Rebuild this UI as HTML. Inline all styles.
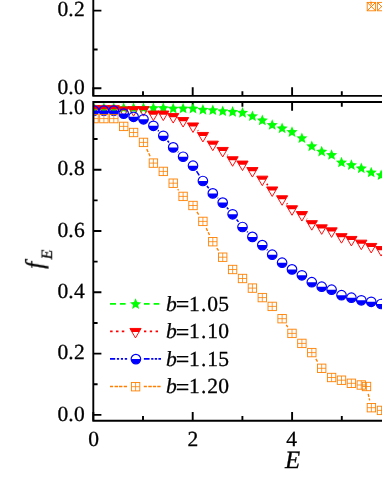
<!DOCTYPE html><html><head><meta charset="utf-8"><title>plot</title><style>html,body{margin:0;padding:0;background:#fff}body{width:382px;height:494px;overflow:hidden}</style></head><body><svg width="382" height="494" viewBox="0 0 382 494" style="display:block">
<rect width="382" height="494" fill="#fff"/>
<defs><clipPath id="cb"><rect x="93.3" y="102.05" width="300" height="318.65"/></clipPath><clipPath id="ct"><rect x="93.3" y="-5" width="300" height="100.9"/></clipPath></defs>
<path d="M192.7,102.05 v8.6 M242.4,102.05 v4.6 M292.1,102.05 v8.6 M341.8,102.05 v4.6 M93.3,414.9 h8.1 M93.3,384.25 h4.3 M93.3,353.6 h8.1 M93.3,322.95 h4.3 M93.3,292.3 h8.1 M93.3,261.65 h4.3 M93.3,231 h8.1 M93.3,200.35 h4.3 M93.3,169.7 h8.1 M93.3,139.05 h4.3 M93.3,108.4 h8.1 M93.3,420.7 v-8.6 M143,420.7 v-4.6 M192.7,420.7 v-8.6 M242.4,420.7 v-4.6 M292.1,420.7 v-8.6 M341.8,420.7 v-4.6" stroke="#000" stroke-width="1.9" fill="none"/>
<g clip-path="url(#cb)">

<polygon points="94,102.3 95.56,106.05 99.61,106.38 96.53,109.02 97.47,112.97 94,110.86 90.53,112.97 91.47,109.02 88.39,106.38 92.44,106.05" fill="#00FF00"/>
<polygon points="103.9,102.3 105.46,106.05 109.51,106.38 106.43,109.02 107.37,112.97 103.9,110.86 100.43,112.97 101.37,109.02 98.29,106.38 102.34,106.05" fill="#00FF00"/>
<polygon points="113.8,102.3 115.36,106.05 119.41,106.38 116.33,109.02 117.27,112.97 113.8,110.86 110.33,112.97 111.27,109.02 108.19,106.38 112.24,106.05" fill="#00FF00"/>
<polygon points="123.7,102.3 125.26,106.05 129.31,106.38 126.23,109.02 127.17,112.97 123.7,110.86 120.23,112.97 121.17,109.02 118.09,106.38 122.14,106.05" fill="#00FF00"/>
<polygon points="133.6,102.3 135.16,106.05 139.21,106.38 136.13,109.02 137.07,112.97 133.6,110.86 130.13,112.97 131.07,109.02 127.99,106.38 132.04,106.05" fill="#00FF00"/>
<polygon points="143.5,102.3 145.06,106.05 149.11,106.38 146.03,109.02 146.97,112.97 143.5,110.86 140.03,112.97 140.97,109.02 137.89,106.38 141.94,106.05" fill="#00FF00"/>
<polygon points="153.4,102.3 154.96,106.05 159.01,106.38 155.93,109.02 156.87,112.97 153.4,110.86 149.93,112.97 150.87,109.02 147.79,106.38 151.84,106.05" fill="#00FF00"/>
<polygon points="163.3,102.3 164.86,106.05 168.91,106.38 165.83,109.02 166.77,112.97 163.3,110.86 159.83,112.97 160.77,109.02 157.69,106.38 161.74,106.05" fill="#00FF00"/>
<polygon points="173.2,102.8 174.76,106.55 178.81,106.88 175.73,109.52 176.67,113.47 173.2,111.36 169.73,113.47 170.67,109.52 167.59,106.88 171.64,106.55" fill="#00FF00"/>
<polygon points="183.1,102.7 184.66,106.45 188.71,106.78 185.63,109.42 186.57,113.37 183.1,111.25 179.63,113.37 180.57,109.42 177.49,106.78 181.54,106.45" fill="#00FF00"/>
<polygon points="193,102.8 194.56,106.55 198.61,106.88 195.53,109.52 196.47,113.47 193,111.36 189.53,113.47 190.47,109.52 187.39,106.88 191.44,106.55" fill="#00FF00"/>
<polygon points="202.9,104 204.46,107.75 208.51,108.08 205.43,110.72 206.37,114.67 202.9,112.56 199.43,114.67 200.37,110.72 197.29,108.08 201.34,107.75" fill="#00FF00"/>
<polygon points="212.8,104.4 214.36,108.15 218.41,108.48 215.33,111.12 216.27,115.07 212.8,112.95 209.33,115.07 210.27,111.12 207.19,108.48 211.24,108.15" fill="#00FF00"/>
<polygon points="222.7,105.4 224.26,109.15 228.31,109.48 225.23,112.12 226.17,116.07 222.7,113.95 219.23,116.07 220.17,112.12 217.09,109.48 221.14,109.15" fill="#00FF00"/>
<polygon points="232.6,106.1 234.16,109.85 238.21,110.18 235.13,112.82 236.07,116.77 232.6,114.66 229.13,116.77 230.07,112.82 226.99,110.18 231.04,109.85" fill="#00FF00"/>
<polygon points="242.5,107 244.06,110.75 248.11,111.08 245.03,113.72 245.97,117.67 242.5,115.56 239.03,117.67 239.97,113.72 236.89,111.08 240.94,110.75" fill="#00FF00"/>
<polygon points="252.4,110.4 253.96,114.15 258.01,114.48 254.93,117.12 255.87,121.07 252.4,118.95 248.93,121.07 249.87,117.12 246.79,114.48 250.84,114.15" fill="#00FF00"/>
<polygon points="262.3,114.6 263.86,118.35 267.91,118.68 264.83,121.32 265.77,125.27 262.3,123.16 258.83,125.27 259.77,121.32 256.69,118.68 260.74,118.35" fill="#00FF00"/>
<polygon points="272.2,119.2 273.76,122.95 277.81,123.28 274.73,125.92 275.67,129.87 272.2,127.75 268.73,129.87 269.67,125.92 266.59,123.28 270.64,122.95" fill="#00FF00"/>
<polygon points="282.1,122.55 283.66,126.3 287.71,126.63 284.63,129.27 285.57,133.22 282.1,131.1 278.63,133.22 279.57,129.27 276.49,126.63 280.54,126.3" fill="#00FF00"/>
<polygon points="292,126.25 293.56,130 297.61,130.33 294.53,132.97 295.47,136.92 292,134.81 288.53,136.92 289.47,132.97 286.39,130.33 290.44,130" fill="#00FF00"/>
<polygon points="301.9,132.4 303.46,136.15 307.51,136.48 304.43,139.12 305.37,143.07 301.9,140.96 298.43,143.07 299.37,139.12 296.29,136.48 300.34,136.15" fill="#00FF00"/>
<polygon points="311.8,140.5 313.36,144.25 317.41,144.58 314.33,147.22 315.27,151.17 311.8,149.06 308.33,151.17 309.27,147.22 306.19,144.58 310.24,144.25" fill="#00FF00"/>
<polygon points="321.7,145.8 323.26,149.55 327.31,149.88 324.23,152.52 325.17,156.47 321.7,154.35 318.23,156.47 319.17,152.52 316.09,149.88 320.14,149.55" fill="#00FF00"/>
<polygon points="331.6,149.2 333.16,152.95 337.21,153.28 334.13,155.92 335.07,159.87 331.6,157.75 328.13,159.87 329.07,155.92 325.99,153.28 330.04,152.95" fill="#00FF00"/>
<polygon points="341.5,156.7 343.06,160.45 347.11,160.78 344.03,163.42 344.97,167.37 341.5,165.25 338.03,167.37 338.97,163.42 335.89,160.78 339.94,160.45" fill="#00FF00"/>
<polygon points="351.4,159.3 352.96,163.05 357.01,163.38 353.93,166.02 354.87,169.97 351.4,167.85 347.93,169.97 348.87,166.02 345.79,163.38 349.84,163.05" fill="#00FF00"/>
<polygon points="361.3,162.55 362.86,166.3 366.91,166.63 363.83,169.27 364.77,173.22 361.3,171.1 357.83,173.22 358.77,169.27 355.69,166.63 359.74,166.3" fill="#00FF00"/>
<polygon points="371.2,166.7 372.76,170.45 376.81,170.78 373.73,173.42 374.67,177.37 371.2,175.25 367.73,177.37 368.67,173.42 365.59,170.78 369.64,170.45" fill="#00FF00"/>
<polygon points="381.1,169.4 382.66,173.15 386.71,173.48 383.63,176.12 384.57,180.07 381.1,177.96 377.63,180.07 378.57,176.12 375.49,173.48 379.54,173.15" fill="#00FF00"/>
<polygon points="391,171.1 392.56,174.85 396.61,175.18 393.53,177.82 394.47,181.77 391,179.66 387.53,181.77 388.47,177.82 385.39,175.18 389.44,174.85" fill="#00FF00"/>
<path d="M197.69,130.4 L198.21,130.9 M227.44,154.85 L227.86,155.25 M266.69,183.89 L267.81,185.11 M286.67,203.32 L287.43,204.08 M306.69,218.9 L307.01,219.2" fill="none" stroke="#FF0000" stroke-width="1.6" stroke-dasharray="2.3 3.5"/>
<polygon points="88.4,105.65 99.6,105.65 97.48,109.25 90.52,109.25" fill="#FF0000"/><polygon points="88.4,105.65 99.6,105.65 94,115.15" fill="none" stroke="#FF0000" stroke-width="0.95"/>
<polygon points="98.3,105.65 109.5,105.65 107.38,109.25 100.42,109.25" fill="#FF0000"/><polygon points="98.3,105.65 109.5,105.65 103.9,115.15" fill="none" stroke="#FF0000" stroke-width="0.95"/>
<polygon points="108.2,105.65 119.4,105.65 117.28,109.25 110.32,109.25" fill="#FF0000"/><polygon points="108.2,105.65 119.4,105.65 113.8,115.15" fill="none" stroke="#FF0000" stroke-width="0.95"/>
<polygon points="118.1,106.95 129.3,106.95 127.18,110.55 120.22,110.55" fill="#FF0000"/><polygon points="118.1,106.95 129.3,106.95 123.7,116.45" fill="none" stroke="#FF0000" stroke-width="0.95"/>
<polygon points="128,106.65 139.2,106.65 137.08,110.25 130.12,110.25" fill="#FF0000"/><polygon points="128,106.65 139.2,106.65 133.6,116.15" fill="none" stroke="#FF0000" stroke-width="0.95"/>
<polygon points="137.9,106.65 149.1,106.65 146.98,110.25 140.02,110.25" fill="#FF0000"/><polygon points="137.9,106.65 149.1,106.65 143.5,116.15" fill="none" stroke="#FF0000" stroke-width="0.95"/>
<polygon points="147.8,111.05 159,111.05 156.88,114.65 149.92,114.65" fill="#FF0000"/><polygon points="147.8,111.05 159,111.05 153.4,120.55" fill="none" stroke="#FF0000" stroke-width="0.95"/>
<polygon points="157.7,111.05 168.9,111.05 166.78,114.65 159.82,114.65" fill="#FF0000"/><polygon points="157.7,111.05 168.9,111.05 163.3,120.55" fill="none" stroke="#FF0000" stroke-width="0.95"/>
<polygon points="167.6,113.55 178.8,113.55 176.68,117.15 169.72,117.15" fill="#FF0000"/><polygon points="167.6,113.55 178.8,113.55 173.2,123.05" fill="none" stroke="#FF0000" stroke-width="0.95"/>
<polygon points="177.5,117.55 188.7,117.55 186.58,121.15 179.62,121.15" fill="#FF0000"/><polygon points="177.5,117.55 188.7,117.55 183.1,127.05" fill="none" stroke="#FF0000" stroke-width="0.95"/>
<polygon points="187.4,122.95 198.6,122.95 196.48,126.55 189.52,126.55" fill="#FF0000"/><polygon points="187.4,122.95 198.6,122.95 193,132.45" fill="none" stroke="#FF0000" stroke-width="0.95"/>
<polygon points="197.3,132.45 208.5,132.45 206.38,136.05 199.42,136.05" fill="#FF0000"/><polygon points="197.3,132.45 208.5,132.45 202.9,141.95" fill="none" stroke="#FF0000" stroke-width="0.95"/>
<polygon points="207.2,141.15 218.4,141.15 216.28,144.75 209.32,144.75" fill="#FF0000"/><polygon points="207.2,141.15 218.4,141.15 212.8,150.65" fill="none" stroke="#FF0000" stroke-width="0.95"/>
<polygon points="217.1,147.45 228.3,147.45 226.18,151.05 219.22,151.05" fill="#FF0000"/><polygon points="217.1,147.45 228.3,147.45 222.7,156.95" fill="none" stroke="#FF0000" stroke-width="0.95"/>
<polygon points="227,156.75 238.2,156.75 236.08,160.35 229.12,160.35" fill="#FF0000"/><polygon points="227,156.75 238.2,156.75 232.6,166.25" fill="none" stroke="#FF0000" stroke-width="0.95"/>
<polygon points="236.9,161.05 248.1,161.05 245.98,164.65 239.02,164.65" fill="#FF0000"/><polygon points="236.9,161.05 248.1,161.05 242.5,170.55" fill="none" stroke="#FF0000" stroke-width="0.95"/>
<polygon points="246.8,167.55 258,167.55 255.88,171.15 248.92,171.15" fill="#FF0000"/><polygon points="246.8,167.55 258,167.55 252.4,177.05" fill="none" stroke="#FF0000" stroke-width="0.95"/>
<polygon points="256.7,176.15 267.9,176.15 265.78,179.75 258.82,179.75" fill="#FF0000"/><polygon points="256.7,176.15 267.9,176.15 262.3,185.65" fill="none" stroke="#FF0000" stroke-width="0.95"/>
<polygon points="266.6,186.95 277.8,186.95 275.68,190.55 268.72,190.55" fill="#FF0000"/><polygon points="266.6,186.95 277.8,186.95 272.2,196.45" fill="none" stroke="#FF0000" stroke-width="0.95"/>
<polygon points="276.5,195.75 287.7,195.75 285.58,199.35 278.62,199.35" fill="#FF0000"/><polygon points="276.5,195.75 287.7,195.75 282.1,205.25" fill="none" stroke="#FF0000" stroke-width="0.95"/>
<polygon points="286.4,205.75 297.6,205.75 295.48,209.35 288.52,209.35" fill="#FF0000"/><polygon points="286.4,205.75 297.6,205.75 292,215.25" fill="none" stroke="#FF0000" stroke-width="0.95"/>
<polygon points="296.3,211.55 307.5,211.55 305.38,215.15 298.42,215.15" fill="#FF0000"/><polygon points="296.3,211.55 307.5,211.55 301.9,221.05" fill="none" stroke="#FF0000" stroke-width="0.95"/>
<polygon points="306.2,220.65 317.4,220.65 315.28,224.25 308.32,224.25" fill="#FF0000"/><polygon points="306.2,220.65 317.4,220.65 311.8,230.15" fill="none" stroke="#FF0000" stroke-width="0.95"/>
<polygon points="316.1,224.85 327.3,224.85 325.18,228.45 318.22,228.45" fill="#FF0000"/><polygon points="316.1,224.85 327.3,224.85 321.7,234.35" fill="none" stroke="#FF0000" stroke-width="0.95"/>
<polygon points="326,227.85 337.2,227.85 335.08,231.45 328.12,231.45" fill="#FF0000"/><polygon points="326,227.85 337.2,227.85 331.6,237.35" fill="none" stroke="#FF0000" stroke-width="0.95"/>
<polygon points="335.9,233.65 347.1,233.65 344.98,237.25 338.02,237.25" fill="#FF0000"/><polygon points="335.9,233.65 347.1,233.65 341.5,243.15" fill="none" stroke="#FF0000" stroke-width="0.95"/>
<polygon points="345.8,236.45 357,236.45 354.88,240.05 347.92,240.05" fill="#FF0000"/><polygon points="345.8,236.45 357,236.45 351.4,245.95" fill="none" stroke="#FF0000" stroke-width="0.95"/>
<polygon points="355.7,240.15 366.9,240.15 364.78,243.75 357.82,243.75" fill="#FF0000"/><polygon points="355.7,240.15 366.9,240.15 361.3,249.65" fill="none" stroke="#FF0000" stroke-width="0.95"/>
<polygon points="365.6,243.45 376.8,243.45 374.68,247.05 367.72,247.05" fill="#FF0000"/><polygon points="365.6,243.45 376.8,243.45 371.2,252.95" fill="none" stroke="#FF0000" stroke-width="0.95"/>
<polygon points="375.5,246.55 386.7,246.55 384.58,250.15 377.62,250.15" fill="#FF0000"/><polygon points="375.5,246.55 386.7,246.55 381.1,256.05" fill="none" stroke="#FF0000" stroke-width="0.95"/>
<polygon points="385.4,250.05 396.6,250.05 394.48,253.65 387.52,253.65" fill="#FF0000"/><polygon points="385.4,250.05 396.6,250.05 391,259.55" fill="none" stroke="#FF0000" stroke-width="0.95"/>
<path d="M157.97,130.42 L158.73,131.18 M167.52,140.74 L168.98,142.46 M177.93,151.86 L178.37,152.29 M196.53,171.16 L199.37,175.54 M206.96,186.08 L208.74,188.32 M217.56,197.82 L217.94,198.18 M226.9,207.56 L228.4,209.34 M236.6,219.43 L238.5,221.87 M247.1,231.6 L247.8,232.3 M266.97,249.62 L267.53,250.18" fill="none" stroke="#0000FF" stroke-width="1.6" stroke-dasharray="5 1.9 2.1 1.9 2.1 1.9 2.1 1.9"/>
<path d="M89.25,110.6 A4.75,4.75 0 0 0 98.75,110.6 Z" fill="#0000FF"/><circle cx="94" cy="110.6" r="4.75" fill="none" stroke="#0000FF" stroke-width="1.2"/>
<path d="M99.15,110.6 A4.75,4.75 0 0 0 108.65,110.6 Z" fill="#0000FF"/><circle cx="103.9" cy="110.6" r="4.75" fill="none" stroke="#0000FF" stroke-width="1.2"/>
<path d="M109.05,110.6 A4.75,4.75 0 0 0 118.55,110.6 Z" fill="#0000FF"/><circle cx="113.8" cy="110.6" r="4.75" fill="none" stroke="#0000FF" stroke-width="1.2"/>
<path d="M118.95,113.6 A4.75,4.75 0 0 0 128.45,113.6 Z" fill="#0000FF"/><circle cx="123.7" cy="113.6" r="4.75" fill="none" stroke="#0000FF" stroke-width="1.2"/>
<path d="M128.85,116.8 A4.75,4.75 0 0 0 138.35,116.8 Z" fill="#0000FF"/><circle cx="133.6" cy="116.8" r="4.75" fill="none" stroke="#0000FF" stroke-width="1.2"/>
<path d="M138.75,119.3 A4.75,4.75 0 0 0 148.25,119.3 Z" fill="#0000FF"/><circle cx="143.5" cy="119.3" r="4.75" fill="none" stroke="#0000FF" stroke-width="1.2"/>
<path d="M148.65,125.8 A4.75,4.75 0 0 0 158.15,125.8 Z" fill="#0000FF"/><circle cx="153.4" cy="125.8" r="4.75" fill="none" stroke="#0000FF" stroke-width="1.2"/>
<path d="M158.55,135.8 A4.75,4.75 0 0 0 168.05,135.8 Z" fill="#0000FF"/><circle cx="163.3" cy="135.8" r="4.75" fill="none" stroke="#0000FF" stroke-width="1.2"/>
<path d="M168.45,147.4 A4.75,4.75 0 0 0 177.95,147.4 Z" fill="#0000FF"/><circle cx="173.2" cy="147.4" r="4.75" fill="none" stroke="#0000FF" stroke-width="1.2"/>
<path d="M178.35,156.75 A4.75,4.75 0 0 0 187.85,156.75 Z" fill="#0000FF"/><circle cx="183.1" cy="156.75" r="4.75" fill="none" stroke="#0000FF" stroke-width="1.2"/>
<path d="M188.25,165.7 A4.75,4.75 0 0 0 197.75,165.7 Z" fill="#0000FF"/><circle cx="193" cy="165.7" r="4.75" fill="none" stroke="#0000FF" stroke-width="1.2"/>
<path d="M198.15,181 A4.75,4.75 0 0 0 207.65,181 Z" fill="#0000FF"/><circle cx="202.9" cy="181" r="4.75" fill="none" stroke="#0000FF" stroke-width="1.2"/>
<path d="M208.05,193.4 A4.75,4.75 0 0 0 217.55,193.4 Z" fill="#0000FF"/><circle cx="212.8" cy="193.4" r="4.75" fill="none" stroke="#0000FF" stroke-width="1.2"/>
<path d="M217.95,202.6 A4.75,4.75 0 0 0 227.45,202.6 Z" fill="#0000FF"/><circle cx="222.7" cy="202.6" r="4.75" fill="none" stroke="#0000FF" stroke-width="1.2"/>
<path d="M227.85,214.3 A4.75,4.75 0 0 0 237.35,214.3 Z" fill="#0000FF"/><circle cx="232.6" cy="214.3" r="4.75" fill="none" stroke="#0000FF" stroke-width="1.2"/>
<path d="M237.75,227 A4.75,4.75 0 0 0 247.25,227 Z" fill="#0000FF"/><circle cx="242.5" cy="227" r="4.75" fill="none" stroke="#0000FF" stroke-width="1.2"/>
<path d="M247.65,236.9 A4.75,4.75 0 0 0 257.15,236.9 Z" fill="#0000FF"/><circle cx="252.4" cy="236.9" r="4.75" fill="none" stroke="#0000FF" stroke-width="1.2"/>
<path d="M257.55,245.1 A4.75,4.75 0 0 0 267.05,245.1 Z" fill="#0000FF"/><circle cx="262.3" cy="245.1" r="4.75" fill="none" stroke="#0000FF" stroke-width="1.2"/>
<path d="M267.45,254.7 A4.75,4.75 0 0 0 276.95,254.7 Z" fill="#0000FF"/><circle cx="272.2" cy="254.7" r="4.75" fill="none" stroke="#0000FF" stroke-width="1.2"/>
<path d="M277.35,262.7 A4.75,4.75 0 0 0 286.85,262.7 Z" fill="#0000FF"/><circle cx="282.1" cy="262.7" r="4.75" fill="none" stroke="#0000FF" stroke-width="1.2"/>
<path d="M287.25,269.4 A4.75,4.75 0 0 0 296.75,269.4 Z" fill="#0000FF"/><circle cx="292" cy="269.4" r="4.75" fill="none" stroke="#0000FF" stroke-width="1.2"/>
<path d="M297.15,275.3 A4.75,4.75 0 0 0 306.65,275.3 Z" fill="#0000FF"/><circle cx="301.9" cy="275.3" r="4.75" fill="none" stroke="#0000FF" stroke-width="1.2"/>
<path d="M307.05,282.2 A4.75,4.75 0 0 0 316.55,282.2 Z" fill="#0000FF"/><circle cx="311.8" cy="282.2" r="4.75" fill="none" stroke="#0000FF" stroke-width="1.2"/>
<path d="M316.95,286.7 A4.75,4.75 0 0 0 326.45,286.7 Z" fill="#0000FF"/><circle cx="321.7" cy="286.7" r="4.75" fill="none" stroke="#0000FF" stroke-width="1.2"/>
<path d="M326.85,289.7 A4.75,4.75 0 0 0 336.35,289.7 Z" fill="#0000FF"/><circle cx="331.6" cy="289.7" r="4.75" fill="none" stroke="#0000FF" stroke-width="1.2"/>
<path d="M336.75,295.2 A4.75,4.75 0 0 0 346.25,295.2 Z" fill="#0000FF"/><circle cx="341.5" cy="295.2" r="4.75" fill="none" stroke="#0000FF" stroke-width="1.2"/>
<path d="M346.65,297.7 A4.75,4.75 0 0 0 356.15,297.7 Z" fill="#0000FF"/><circle cx="351.4" cy="297.7" r="4.75" fill="none" stroke="#0000FF" stroke-width="1.2"/>
<path d="M356.55,300.3 A4.75,4.75 0 0 0 366.05,300.3 Z" fill="#0000FF"/><circle cx="361.3" cy="300.3" r="4.75" fill="none" stroke="#0000FF" stroke-width="1.2"/>
<path d="M366.45,301.8 A4.75,4.75 0 0 0 375.95,301.8 Z" fill="#0000FF"/><circle cx="371.2" cy="301.8" r="4.75" fill="none" stroke="#0000FF" stroke-width="1.2"/>
<path d="M376.35,304 A4.75,4.75 0 0 0 385.85,304 Z" fill="#0000FF"/><circle cx="381.1" cy="304" r="4.75" fill="none" stroke="#0000FF" stroke-width="1.2"/>
<path d="M386.25,305 A4.75,4.75 0 0 0 395.75,305 Z" fill="#0000FF"/><circle cx="391" cy="305" r="4.75" fill="none" stroke="#0000FF" stroke-width="1.2"/>
<path d="M146.74,149.17 L150.16,156.33 M177.7,189.2 L178.6,190.4 M196.96,211.87 L198.94,215.03 M206.19,228.14 L209.51,234.96 M216.84,248.02 L218.66,250.88 M286.29,324.92 L287.81,327.18 M315.8,358.94 L317.7,361.96 M368.19,393.81 L369.71,400.39" fill="none" stroke="#FF8000" stroke-width="1.4" stroke-dasharray="3.2 1.4"/>
<rect x="89.8" y="114.4" width="8.4" height="8.4" fill="none" stroke="#FF8000" stroke-width="0.9"/><path d="M94,114.4 V122.8 M89.8,118.6 H98.2" stroke="#FF8000" stroke-width="0.8" fill="none"/>
<rect x="99.7" y="114.4" width="8.4" height="8.4" fill="none" stroke="#FF8000" stroke-width="0.9"/><path d="M103.9,114.4 V122.8 M99.7,118.6 H108.1" stroke="#FF8000" stroke-width="0.8" fill="none"/>
<rect x="109.6" y="114.4" width="8.4" height="8.4" fill="none" stroke="#FF8000" stroke-width="0.9"/><path d="M113.8,114.4 V122.8 M109.6,118.6 H118" stroke="#FF8000" stroke-width="0.8" fill="none"/>
<rect x="119.5" y="122.2" width="8.4" height="8.4" fill="none" stroke="#FF8000" stroke-width="0.9"/><path d="M123.7,122.2 V130.6 M119.5,126.4 H127.9" stroke="#FF8000" stroke-width="0.8" fill="none"/>
<rect x="129.4" y="128.3" width="8.4" height="8.4" fill="none" stroke="#FF8000" stroke-width="0.9"/><path d="M133.6,128.3 V136.7 M129.4,132.5 H137.8" stroke="#FF8000" stroke-width="0.8" fill="none"/>
<rect x="139.3" y="138.2" width="8.4" height="8.4" fill="none" stroke="#FF8000" stroke-width="0.9"/><path d="M143.5,138.2 V146.6 M139.3,142.4 H147.7" stroke="#FF8000" stroke-width="0.8" fill="none"/>
<rect x="149.2" y="158.9" width="8.4" height="8.4" fill="none" stroke="#FF8000" stroke-width="0.9"/><path d="M153.4,158.9 V167.3 M149.2,163.1 H157.6" stroke="#FF8000" stroke-width="0.8" fill="none"/>
<rect x="159.1" y="167.2" width="8.4" height="8.4" fill="none" stroke="#FF8000" stroke-width="0.9"/><path d="M163.3,167.2 V175.6 M159.1,171.4 H167.5" stroke="#FF8000" stroke-width="0.8" fill="none"/>
<rect x="169" y="179" width="8.4" height="8.4" fill="none" stroke="#FF8000" stroke-width="0.9"/><path d="M173.2,179 V187.4 M169,183.2 H177.4" stroke="#FF8000" stroke-width="0.8" fill="none"/>
<rect x="178.9" y="192.2" width="8.4" height="8.4" fill="none" stroke="#FF8000" stroke-width="0.9"/><path d="M183.1,192.2 V200.6 M178.9,196.4 H187.3" stroke="#FF8000" stroke-width="0.8" fill="none"/>
<rect x="188.8" y="201.3" width="8.4" height="8.4" fill="none" stroke="#FF8000" stroke-width="0.9"/><path d="M193,201.3 V209.7 M188.8,205.5 H197.2" stroke="#FF8000" stroke-width="0.8" fill="none"/>
<rect x="198.7" y="217.2" width="8.4" height="8.4" fill="none" stroke="#FF8000" stroke-width="0.9"/><path d="M202.9,217.2 V225.6 M198.7,221.4 H207.1" stroke="#FF8000" stroke-width="0.8" fill="none"/>
<rect x="208.6" y="237.5" width="8.4" height="8.4" fill="none" stroke="#FF8000" stroke-width="0.9"/><path d="M212.8,237.5 V245.9 M208.6,241.7 H217" stroke="#FF8000" stroke-width="0.8" fill="none"/>
<rect x="218.5" y="253" width="8.4" height="8.4" fill="none" stroke="#FF8000" stroke-width="0.9"/><path d="M222.7,253 V261.4 M218.5,257.2 H226.9" stroke="#FF8000" stroke-width="0.8" fill="none"/>
<rect x="228.4" y="265.3" width="8.4" height="8.4" fill="none" stroke="#FF8000" stroke-width="0.9"/><path d="M232.6,265.3 V273.7 M228.4,269.5 H236.8" stroke="#FF8000" stroke-width="0.8" fill="none"/>
<rect x="238.3" y="274.3" width="8.4" height="8.4" fill="none" stroke="#FF8000" stroke-width="0.9"/><path d="M242.5,274.3 V282.7 M238.3,278.5 H246.7" stroke="#FF8000" stroke-width="0.8" fill="none"/>
<rect x="248.2" y="283.9" width="8.4" height="8.4" fill="none" stroke="#FF8000" stroke-width="0.9"/><path d="M252.4,283.9 V292.3 M248.2,288.1 H256.6" stroke="#FF8000" stroke-width="0.8" fill="none"/>
<rect x="258.1" y="293.4" width="8.4" height="8.4" fill="none" stroke="#FF8000" stroke-width="0.9"/><path d="M262.3,293.4 V301.8 M258.1,297.6 H266.5" stroke="#FF8000" stroke-width="0.8" fill="none"/>
<rect x="268" y="302.2" width="8.4" height="8.4" fill="none" stroke="#FF8000" stroke-width="0.9"/><path d="M272.2,302.2 V310.6 M268,306.4 H276.4" stroke="#FF8000" stroke-width="0.8" fill="none"/>
<rect x="277.9" y="314.5" width="8.4" height="8.4" fill="none" stroke="#FF8000" stroke-width="0.9"/><path d="M282.1,314.5 V322.9 M277.9,318.7 H286.3" stroke="#FF8000" stroke-width="0.8" fill="none"/>
<rect x="287.8" y="329.2" width="8.4" height="8.4" fill="none" stroke="#FF8000" stroke-width="0.9"/><path d="M292,329.2 V337.6 M287.8,333.4 H296.2" stroke="#FF8000" stroke-width="0.8" fill="none"/>
<rect x="297.7" y="339.2" width="8.4" height="8.4" fill="none" stroke="#FF8000" stroke-width="0.9"/><path d="M301.9,339.2 V347.6 M297.7,343.4 H306.1" stroke="#FF8000" stroke-width="0.8" fill="none"/>
<rect x="307.6" y="348.4" width="8.4" height="8.4" fill="none" stroke="#FF8000" stroke-width="0.9"/><path d="M311.8,348.4 V356.8 M307.6,352.6 H316" stroke="#FF8000" stroke-width="0.8" fill="none"/>
<rect x="317.5" y="364.1" width="8.4" height="8.4" fill="none" stroke="#FF8000" stroke-width="0.9"/><path d="M321.7,364.1 V372.5 M317.5,368.3 H325.9" stroke="#FF8000" stroke-width="0.8" fill="none"/>
<rect x="327.4" y="373.3" width="8.4" height="8.4" fill="none" stroke="#FF8000" stroke-width="0.9"/><path d="M331.6,373.3 V381.7 M327.4,377.5 H335.8" stroke="#FF8000" stroke-width="0.8" fill="none"/>
<rect x="337.3" y="376" width="8.4" height="8.4" fill="none" stroke="#FF8000" stroke-width="0.9"/><path d="M341.5,376 V384.4 M337.3,380.2 H345.7" stroke="#FF8000" stroke-width="0.8" fill="none"/>
<rect x="347.2" y="379.1" width="8.4" height="8.4" fill="none" stroke="#FF8000" stroke-width="0.9"/><path d="M351.4,379.1 V387.5 M347.2,383.3 H355.6" stroke="#FF8000" stroke-width="0.8" fill="none"/>
<rect x="357.1" y="380.8" width="8.4" height="8.4" fill="none" stroke="#FF8000" stroke-width="0.9"/><path d="M361.3,380.8 V389.2 M357.1,385 H365.5" stroke="#FF8000" stroke-width="0.8" fill="none"/>
<rect x="362.3" y="382.3" width="8.4" height="8.4" fill="none" stroke="#FF8000" stroke-width="0.9"/><path d="M366.5,382.3 V390.7 M362.3,386.5 H370.7" stroke="#FF8000" stroke-width="0.8" fill="none"/>
<rect x="367.2" y="403.5" width="8.4" height="8.4" fill="none" stroke="#FF8000" stroke-width="0.9"/><path d="M371.4,403.5 V411.9 M367.2,407.7 H375.6" stroke="#FF8000" stroke-width="0.8" fill="none"/>
<rect x="377.3" y="406.2" width="8.4" height="8.4" fill="none" stroke="#FF8000" stroke-width="0.9"/><path d="M381.5,406.2 V414.6 M377.3,410.4 H385.7" stroke="#FF8000" stroke-width="0.8" fill="none"/>
<rect x="386.8" y="407.8" width="8.4" height="8.4" fill="none" stroke="#FF8000" stroke-width="0.9"/><path d="M391,407.8 V416.2 M386.8,412 H395.2" stroke="#FF8000" stroke-width="0.8" fill="none"/>
</g>
<g clip-path="url(#ct)">
<path d="M370.4,-3 L371.4,6.6" stroke="#FF8000" stroke-width="1.4" stroke-dasharray="3.2 1.4" fill="none"/>
<rect x="367.2" y="2.4" width="8.4" height="8.4" fill="none" stroke="#FF8000" stroke-width="0.9"/><path d="M367.2,2.4 L375.6,10.8 M367.2,10.8 L375.6,2.4" stroke="#FF8000" stroke-width="1" fill="none"/>
<rect x="377.4" y="2.4" width="8.4" height="8.4" fill="none" stroke="#FF8000" stroke-width="0.9"/><path d="M377.4,2.4 L385.8,10.8 M377.4,10.8 L385.8,2.4" stroke="#FF8000" stroke-width="1" fill="none"/>
</g>
<path d="M93.3,0 V95.9 H382 M382,102.05 H93.3 V420.7 H382" stroke="#000" stroke-width="1.9" fill="none" stroke-linejoin="miter"/>
<path d="M93.3,95.9 v-8.6 M143,95.9 v-4.6 M192.7,95.9 v-8.6 M242.4,95.9 v-4.6 M292.1,95.9 v-8.6 M341.8,95.9 v-4.6 M93.3,10.6 h8.1 M93.3,49.5 h4.3 M93.3,88.3 h8.1" stroke="#000" stroke-width="1.9" fill="none"/>
<path d="M110,303.9 H116 M119.9,303.9 H125.6 M143.9,303.9 H149.6 M153.6,303.9 H159.3" stroke="#00FF00" stroke-width="1.7" fill="none"/>
<polygon points="135.6,298.3 137.16,302.05 141.21,302.38 138.13,305.02 139.07,308.97 135.6,306.85 132.13,308.97 133.07,305.02 129.99,302.38 134.04,302.05" fill="#00FF00"/>
<path d="M110.1,331.4 H112.6 M115.95,331.4 H118.5 M121.8,331.4 H124.3 M144,331.4 H146.3 M149.8,331.4 H152.1 M155.6,331.4 H158" stroke="#FF0000" stroke-width="1.7" fill="none"/>
<polygon points="129.9,328.45 141.1,328.45 138.98,332.05 132.02,332.05" fill="#FF0000"/><polygon points="129.9,328.45 141.1,328.45 135.5,337.95" fill="none" stroke="#FF0000" stroke-width="0.95"/>
<path d="M110,358.8 H115.2 M116.9,358.8 H119.1 M120.9,358.8 H123 M124.8,358.8 H127.1 M143.9,358.8 H149.6 M151.2,358.8 H153.4 M154.8,358.8 H157.1 M158.4,358.8 H161" stroke="#0000FF" stroke-width="1.8" fill="none"/>
<path d="M131.15,359.1 A4.75,4.75 0 0 0 140.65,359.1 Z" fill="#0000FF"/><circle cx="135.9" cy="359.1" r="4.75" fill="none" stroke="#0000FF" stroke-width="1.2"/>
<path d="M110,386.5 H113.1 M114.6,386.5 H118 M119,386.5 H122.4 M123.7,386.5 H127 M143.8,386.5 H146.9 M148.3,386.5 H151.8 M152.9,386.5 H156.1 M157.2,386.5 H160.6" stroke="#FF8000" stroke-width="1.5" fill="none"/>
<rect x="131.4" y="382.5" width="8.4" height="8.4" fill="none" stroke="#FF8000" stroke-width="0.9"/><path d="M135.6,382.5 V390.9 M131.4,386.7 H139.8" stroke="#FF8000" stroke-width="0.8" fill="none"/>
<g style="font-family:'Liberation Serif','Times New Roman',serif" fill="#000" stroke="#000" stroke-width="0.3" opacity="0.999" text-rendering="geometricPrecision">
<text x="166.1 175.8 189.1 200.9 207.3 218.15" y="310.7" font-size="21.5"><tspan font-style="italic">b</tspan><tspan font-size="24" dy="1.3">=</tspan><tspan dy="-1.3">1.05</tspan></text>
<text x="166.1 175.8 189.1 200.9 207.3 218.15" y="338.2" font-size="21.5"><tspan font-style="italic">b</tspan><tspan font-size="24" dy="1.3">=</tspan><tspan dy="-1.3">1.10</tspan></text>
<text x="166.1 175.8 189.1 200.9 207.3 218.15" y="365.7" font-size="21.5"><tspan font-style="italic">b</tspan><tspan font-size="24" dy="1.3">=</tspan><tspan dy="-1.3">1.15</tspan></text>
<text x="166.1 175.8 189.1 200.9 207.3 218.15" y="393.2" font-size="21.5"><tspan font-style="italic">b</tspan><tspan font-size="24" dy="1.3">=</tspan><tspan dy="-1.3">1.20</tspan></text>
<text x="57.4 68.2 73.9" y="16.2" font-size="21.5">0.2</text>
<text x="57.4 68.2 73.9" y="93.9" font-size="21.5">0.0</text>
<text x="57.4 68.2 73.9" y="114" font-size="21.5">1.0</text>
<text x="57.4 68.2 73.9" y="175.3" font-size="21.5">0.8</text>
<text x="57.4 68.2 73.9" y="236.6" font-size="21.5">0.6</text>
<text x="57.4 68.2 73.9" y="297.9" font-size="21.5">0.4</text>
<text x="57.4 68.2 73.9" y="359.2" font-size="21.5">0.2</text>
<text x="57.4 68.2 73.9" y="420.5" font-size="21.5">0.0</text>
<text x="88.3" y="445.7" font-size="21.5">0</text>
<text x="187.4" y="445.7" font-size="21.5">2</text>
<text x="286.2" y="445.7" font-size="21.5">4</text>
<text x="284.9" y="467.7" font-size="24.8" font-style="italic">E</text>
<g transform="translate(42.9,268.8) rotate(-90)"><text x="0" y="0" font-size="25.5" font-style="italic">f</text><text x="9.6" y="9.4" font-size="15.8" font-style="italic">E</text></g>
</g>
</svg></body></html>
